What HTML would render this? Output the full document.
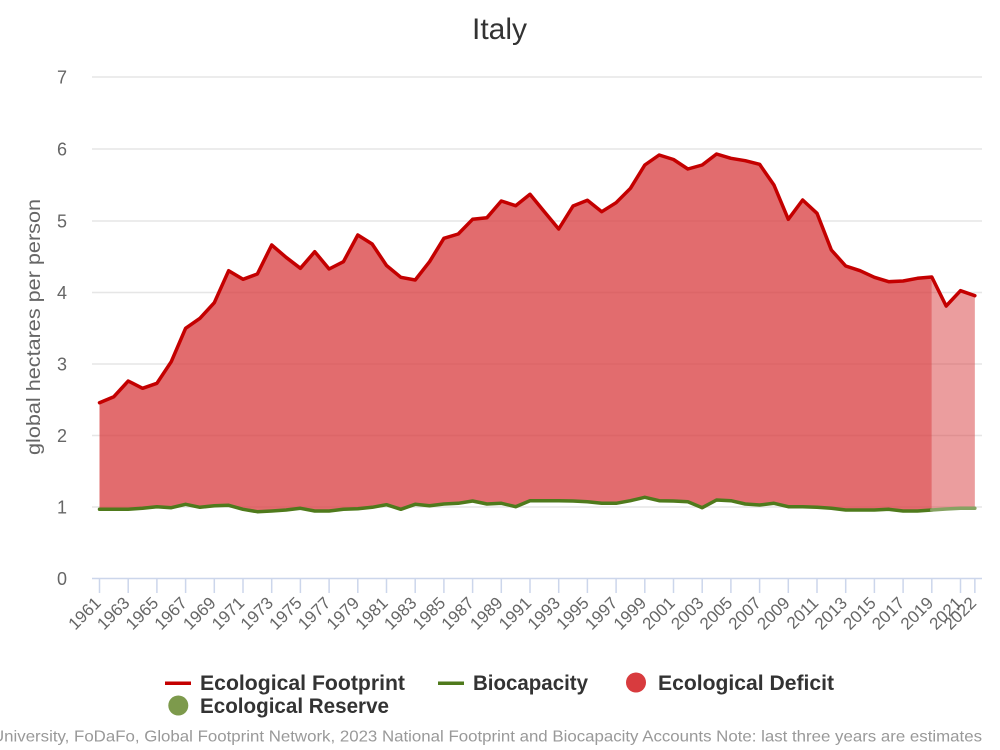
<!DOCTYPE html>
<html>
<head>
<meta charset="utf-8">
<style>
html,body{margin:0;padding:0;background:#fff;}
svg{display:block;font-family:"Liberation Sans",Arial,sans-serif;}
</style>
</head>
<body>
<svg width="1000" height="750" viewBox="0 0 1000 750" xmlns="http://www.w3.org/2000/svg">
<rect x="0" y="0" width="1000" height="750" fill="#ffffff"/>
<!-- Title -->
<text x="499.5" y="39" text-anchor="middle" font-size="30" fill="#333333">Italy</text>

<!-- Gridlines -->
<g stroke="#e6e6e6" stroke-width="1.5">
<line x1="92" y1="77" x2="982" y2="77"/>
<line x1="92" y1="149" x2="982" y2="149"/>
<line x1="92" y1="221" x2="982" y2="221"/>
<line x1="92" y1="292.5" x2="982" y2="292.5"/>
<line x1="92" y1="364" x2="982" y2="364"/>
<line x1="92" y1="435.5" x2="982" y2="435.5"/>
<line x1="92" y1="507" x2="982" y2="507"/>
</g>

<!-- Y tick labels -->
<g font-size="18" fill="#666666" text-anchor="end">
<text x="67" y="83.5">7</text>
<text x="67" y="155.5">6</text>
<text x="67" y="227.5">5</text>
<text x="67" y="299">4</text>
<text x="67" y="370.5">3</text>
<text x="67" y="442">2</text>
<text x="67" y="513.5">1</text>
<text x="67" y="585">0</text>
</g>

<!-- Y axis title -->
<text transform="translate(40,327) rotate(-90)" text-anchor="middle" font-size="19.5" fill="#666666" textLength="256" lengthAdjust="spacingAndGlyphs">global hectares per person</text>

<!-- Deficit area (main) -->
<polygon fill="#d83b3e" fill-opacity="0.75" points="99.5,402.7 113.85,396.7 128.2,381 142.55,388.3 156.9,383.3 171.25,361.7 185.6,328.3 199.95,318.3 214.3,302.7 228.65,270.7 243,279.3 257.35,274 271.7,245 286.05,257.3 300.4,268.3 314.75,251.7 329.1,269 343.45,261.7 357.8,235 372.15,244 386.5,265.5 400.85,277.3 415.2,280 429.55,261.7 443.9,238.3 458.25,234 472.6,219.3 486.95,217.7 501.3,201 515.65,205.7 530,194.3 544.35,211.7 558.7,229 573.05,206 587.4,200.3 601.75,211.7 616.1,202.7 630.45,188.3 644.8,165 659.15,155 673.5,159.5 687.85,169 702.2,165 716.55,154 730.9,158.3 745.25,160.7 759.6,164.3 773.95,185 788.3,219.3 802.65,200 817,213.3 831.35,250 845.7,266 860.05,270.7 874.4,277.3 888.75,281.7 903.1,281 917.45,278.3 931.8,277 931.8,510 917.45,511 903.1,511 888.75,509.3 874.4,510 860.05,510 845.7,510 831.35,508.3 817,507.3 802.65,506.7 788.3,506.7 773.95,503.3 759.6,505 745.25,504 730.9,500.7 716.55,500 702.2,507.7 687.85,501.7 673.5,501 659.15,500.7 644.8,497.3 630.45,500.7 616.1,503.3 601.75,503.3 587.4,501.7 573.05,501 558.7,500.7 544.35,500.7 530,500.7 515.65,506.7 501.3,503.3 486.95,504 472.6,501 458.25,503.3 443.9,504 429.55,505.7 415.2,504.3 400.85,509.3 386.5,504.7 372.15,507.3 357.8,508.7 343.45,509.3 329.1,511 314.75,511 300.4,508.3 286.05,510 271.7,511 257.35,511.7 243,509.3 228.65,505.3 214.3,505.7 199.95,507.3 185.6,504.3 171.25,507.7 156.9,506.7 142.55,508.3 128.2,509.3 113.85,509.3 99.5,509.3"/>
<!-- Deficit area (estimates) -->
<polygon fill="#d83b3e" fill-opacity="0.5" points="931.8,277 946.15,306 960.5,290.7 974.85,295.7 974.85,508.3 960.5,508.3 946.15,509 931.8,510"/>

<!-- Biocapacity line -->
<polyline fill="none" stroke="#4f7a1c" stroke-width="3.5" stroke-linejoin="round" stroke-linecap="round" points="99.5,509.3 113.85,509.3 128.2,509.3 142.55,508.3 156.9,506.7 171.25,507.7 185.6,504.3 199.95,507.3 214.3,505.7 228.65,505.3 243,509.3 257.35,511.7 271.7,511 286.05,510 300.4,508.3 314.75,511 329.1,511 343.45,509.3 357.8,508.7 372.15,507.3 386.5,504.7 400.85,509.3 415.2,504.3 429.55,505.7 443.9,504 458.25,503.3 472.6,501 486.95,504 501.3,503.3 515.65,506.7 530,500.7 544.35,500.7 558.7,500.7 573.05,501 587.4,501.7 601.75,503.3 616.1,503.3 630.45,500.7 644.8,497.3 659.15,500.7 673.5,501 687.85,501.7 702.2,507.7 716.55,500 730.9,500.7 745.25,504 759.6,505 773.95,503.3 788.3,506.7 802.65,506.7 817,507.3 831.35,508.3 845.7,510 860.05,510 874.4,510 888.75,509.3 903.1,511 917.45,511 931.8,510"/>
<polyline fill="none" stroke="#86a262" stroke-width="3.5" stroke-linejoin="round" stroke-linecap="round" points="931.8,510 946.15,509 960.5,508.3 974.85,508.3"/>

<!-- Footprint line -->
<polyline fill="none" stroke="#c40000" stroke-width="3.5" stroke-linejoin="round" stroke-linecap="round" points="99.5,402.7 113.85,396.7 128.2,381 142.55,388.3 156.9,383.3 171.25,361.7 185.6,328.3 199.95,318.3 214.3,302.7 228.65,270.7 243,279.3 257.35,274 271.7,245 286.05,257.3 300.4,268.3 314.75,251.7 329.1,269 343.45,261.7 357.8,235 372.15,244 386.5,265.5 400.85,277.3 415.2,280 429.55,261.7 443.9,238.3 458.25,234 472.6,219.3 486.95,217.7 501.3,201 515.65,205.7 530,194.3 544.35,211.7 558.7,229 573.05,206 587.4,200.3 601.75,211.7 616.1,202.7 630.45,188.3 644.8,165 659.15,155 673.5,159.5 687.85,169 702.2,165 716.55,154 730.9,158.3 745.25,160.7 759.6,164.3 773.95,185 788.3,219.3 802.65,200 817,213.3 831.35,250 845.7,266 860.05,270.7 874.4,277.3 888.75,281.7 903.1,281 917.45,278.3 931.8,277 946.15,306 960.5,290.7 974.85,295.7"/>

<!-- X axis -->
<line x1="92" y1="578.5" x2="982" y2="578.5" stroke="#ccd6eb" stroke-width="1.5"/>
<g stroke="#ccd6eb" stroke-width="1.5">
<line x1="99.5" y1="578.5" x2="99.5" y2="593"/>
<line x1="128.2" y1="578.5" x2="128.2" y2="593"/>
<line x1="156.9" y1="578.5" x2="156.9" y2="593"/>
<line x1="185.6" y1="578.5" x2="185.6" y2="593"/>
<line x1="214.3" y1="578.5" x2="214.3" y2="593"/>
<line x1="243" y1="578.5" x2="243" y2="593"/>
<line x1="271.7" y1="578.5" x2="271.7" y2="593"/>
<line x1="300.4" y1="578.5" x2="300.4" y2="593"/>
<line x1="329.1" y1="578.5" x2="329.1" y2="593"/>
<line x1="357.8" y1="578.5" x2="357.8" y2="593"/>
<line x1="386.5" y1="578.5" x2="386.5" y2="593"/>
<line x1="415.2" y1="578.5" x2="415.2" y2="593"/>
<line x1="443.9" y1="578.5" x2="443.9" y2="593"/>
<line x1="472.6" y1="578.5" x2="472.6" y2="593"/>
<line x1="501.3" y1="578.5" x2="501.3" y2="593"/>
<line x1="530" y1="578.5" x2="530" y2="593"/>
<line x1="558.7" y1="578.5" x2="558.7" y2="593"/>
<line x1="587.4" y1="578.5" x2="587.4" y2="593"/>
<line x1="616.1" y1="578.5" x2="616.1" y2="593"/>
<line x1="644.8" y1="578.5" x2="644.8" y2="593"/>
<line x1="673.5" y1="578.5" x2="673.5" y2="593"/>
<line x1="702.2" y1="578.5" x2="702.2" y2="593"/>
<line x1="730.9" y1="578.5" x2="730.9" y2="593"/>
<line x1="759.6" y1="578.5" x2="759.6" y2="593"/>
<line x1="788.3" y1="578.5" x2="788.3" y2="593"/>
<line x1="817" y1="578.5" x2="817" y2="593"/>
<line x1="845.7" y1="578.5" x2="845.7" y2="593"/>
<line x1="874.4" y1="578.5" x2="874.4" y2="593"/>
<line x1="903.1" y1="578.5" x2="903.1" y2="593"/>
<line x1="931.8" y1="578.5" x2="931.8" y2="593"/>
<line x1="960.5" y1="578.5" x2="960.5" y2="593"/>
<line x1="974.85" y1="578.5" x2="974.85" y2="593"/>
</g>

<!-- X labels -->
<g font-size="17" fill="#666666" text-anchor="end">
<text transform="translate(102,604) rotate(-45)">1961</text>
<text transform="translate(130.7,604) rotate(-45)">1963</text>
<text transform="translate(159.4,604) rotate(-45)">1965</text>
<text transform="translate(188.1,604) rotate(-45)">1967</text>
<text transform="translate(216.8,604) rotate(-45)">1969</text>
<text transform="translate(245.5,604) rotate(-45)">1971</text>
<text transform="translate(274.2,604) rotate(-45)">1973</text>
<text transform="translate(302.9,604) rotate(-45)">1975</text>
<text transform="translate(331.6,604) rotate(-45)">1977</text>
<text transform="translate(360.3,604) rotate(-45)">1979</text>
<text transform="translate(389,604) rotate(-45)">1981</text>
<text transform="translate(417.7,604) rotate(-45)">1983</text>
<text transform="translate(446.4,604) rotate(-45)">1985</text>
<text transform="translate(475.1,604) rotate(-45)">1987</text>
<text transform="translate(503.8,604) rotate(-45)">1989</text>
<text transform="translate(532.5,604) rotate(-45)">1991</text>
<text transform="translate(561.2,604) rotate(-45)">1993</text>
<text transform="translate(589.9,604) rotate(-45)">1995</text>
<text transform="translate(618.6,604) rotate(-45)">1997</text>
<text transform="translate(647.3,604) rotate(-45)">1999</text>
<text transform="translate(676,604) rotate(-45)">2001</text>
<text transform="translate(704.7,604) rotate(-45)">2003</text>
<text transform="translate(733.4,604) rotate(-45)">2005</text>
<text transform="translate(762.1,604) rotate(-45)">2007</text>
<text transform="translate(790.8,604) rotate(-45)">2009</text>
<text transform="translate(819.5,604) rotate(-45)">2011</text>
<text transform="translate(848.2,604) rotate(-45)">2013</text>
<text transform="translate(876.9,604) rotate(-45)">2015</text>
<text transform="translate(905.6,604) rotate(-45)">2017</text>
<text transform="translate(934.3,604) rotate(-45)">2019</text>
<text transform="translate(963,604) rotate(-45)">2021</text>
<text transform="translate(977.35,604) rotate(-45)">2022</text>
</g>

<!-- Legend -->
<line x1="165" y1="683.3" x2="191" y2="683.3" stroke="#c40000" stroke-width="3.5"/>
<text x="200" y="690" font-size="21" font-weight="bold" fill="#333333" textLength="205" lengthAdjust="spacingAndGlyphs">Ecological Footprint</text>
<line x1="438" y1="683.3" x2="464" y2="683.3" stroke="#4f7a1c" stroke-width="3.5"/>
<text x="473" y="690" font-size="21" font-weight="bold" fill="#333333" textLength="115" lengthAdjust="spacingAndGlyphs">Biocapacity</text>
<circle cx="636" cy="682.5" r="10" fill="#d83b3e"/>
<text x="658" y="690" font-size="21" font-weight="bold" fill="#333333" textLength="176" lengthAdjust="spacingAndGlyphs">Ecological Deficit</text>
<circle cx="178.3" cy="705.5" r="10" fill="#7d9a4c"/>
<text x="200" y="713" font-size="21" font-weight="bold" fill="#333333" textLength="189" lengthAdjust="spacingAndGlyphs">Ecological Reserve</text>

<!-- Credits -->
<text x="-8" y="741.5" font-size="16" fill="#999999" textLength="990" lengthAdjust="spacingAndGlyphs">University, FoDaFo, Global Footprint Network, 2023 National Footprint and Biocapacity Accounts Note: last three years are estimates</text>
</svg>
</body>
</html>
